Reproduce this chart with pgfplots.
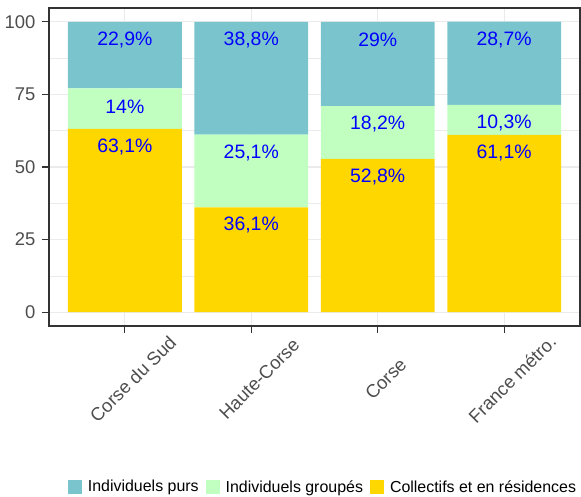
\documentclass[border=0pt]{standalone}
\usepackage{fontspec}
\setmainfont{Liberation Sans}
\usepackage{pgfplots}
\usepackage{pgfplotstable}
\pgfplotsset{compat=1.18}
\definecolor{purs}{HTML}{7AC5CD}
\definecolor{groupes}{HTML}{C1FFC1}
\definecolor{collectifs}{HTML}{FFD700}
\definecolor{gridc}{HTML}{EBEBEB}
\definecolor{grey20}{HTML}{333333}
\definecolor{grey30}{HTML}{4D4D4D}
\pgfplotstableread{
x purs groupes collectifs
1 22.9 14 63.1
2 38.8 25.1 36.1
3 29 18.2 52.8
4 28.7 10.3 61.1
}\data
\begin{document}
\begin{tikzpicture}
\begin{axis}[
 scale only axis, width=531bp, height=318bp,
 ybar stacked, bar width=0.9,
 xmin=0.4, xmax=4.6, ymin=-4.8, ymax=104.8,
 xtick={1,2,3,4}, xticklabels={Corse du Sud, Haute-Corse, Corse, France métro.},
 ytick={0,25,50,75,100}, minor ytick={12.5,37.5,62.5,87.5},
 grid=both, major grid style={gridc, line width=1.1bp}, minor grid style={gridc, line width=0.55bp},
 tick pos=left, tick align=outside, major tick length=7bp, minor tick length=0pt,
 tick style={grey20, line width=1.1bp},
 axis line style={grey20, line width=1.1bp},
 /pgf/number format/assume math mode=true,
 ticklabel style={text=grey30, font=\fontsize{18.5}{22}\selectfont},
 xticklabel style={xshift=8bp, yshift=-46bp, rotate=45, anchor=center},
 yticklabel style={xshift=-3bp},
 point meta=explicit,
 visualization depends on={rawy\as\myval},
 nodes near coords={\pgfmathprintnumber[assume math mode=true, use comma, fixed, precision=1]{\pgfplotspointmeta}\%},
 every node near coord/.append style={anchor=center, yshift={(\myval*1.45075-18)*1.00375}, text=blue, font=\fontsize{19.5}{23}\selectfont},
 legend style={at={(0.516,-0.506)}, anchor=center, draw=none, fill=none, legend columns=3,
   font=\fontsize{16}{19}\selectfont,
   /tikz/every odd column/.append style={column sep=4bp},
   /tikz/every even column/.append style={column sep=5bp}},
 legend cell align=left,
 reverse legend,
]
\addplot[fill=collectifs, draw=none, legend image code/.code={\fill[collectifs] (0bp,-7bp) rectangle (14bp,7bp);}] table[x=x, y=collectifs, meta=collectifs] \data;
\addlegendentry{Collectifs et en résidences}
\addplot[fill=groupes, draw=none, legend image code/.code={\fill[groupes] (0bp,-7bp) rectangle (14bp,7bp);}] table[x=x, y=groupes, meta=groupes] \data;
\addlegendentry{Individuels groupés}
\addplot[fill=purs, draw=none, legend image code/.code={\fill[purs] (0bp,-7bp) rectangle (14bp,7bp);}] table[x=x, y=purs, meta=purs] \data;
\addlegendentry{Individuels purs}
\end{axis}
\pgfresetboundingbox
\path[use as bounding box] (-49bp,-171bp) rectangle (532bp,326bp);
\end{tikzpicture}
\end{document}
